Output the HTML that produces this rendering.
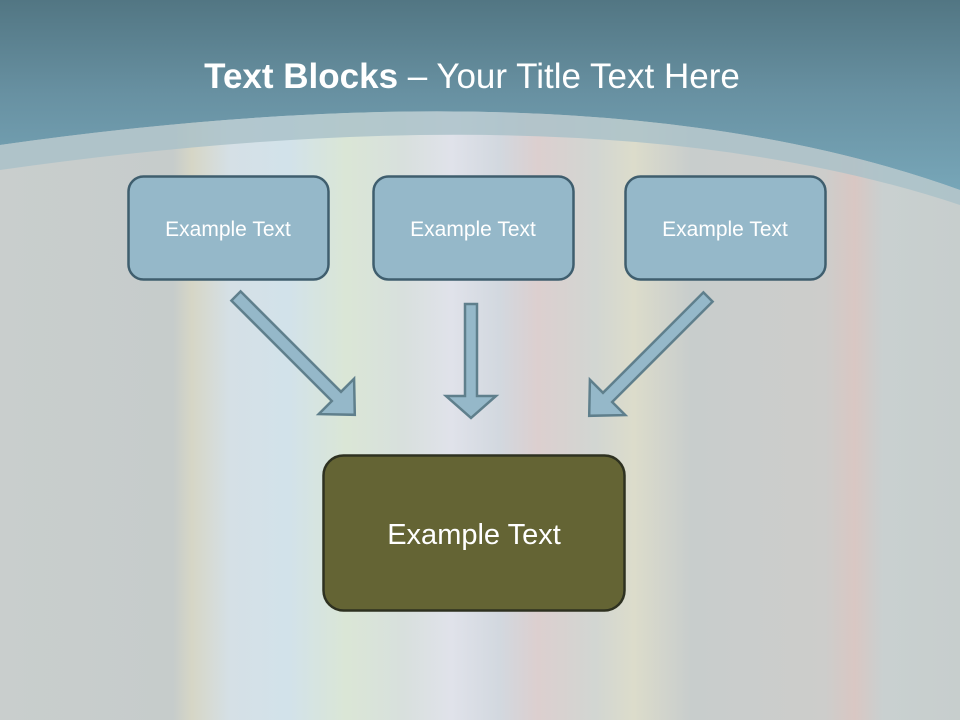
<!DOCTYPE html>
<html><head><meta charset="utf-8"><style>
html,body{margin:0;padding:0;width:960px;height:720px;overflow:hidden}
svg{display:block}
text{font-family:"Liberation Sans",sans-serif;fill:#fff}
</style></head><body>
<svg width="960" height="720" viewBox="0 0 960 720" xmlns="http://www.w3.org/2000/svg">
<defs>
<linearGradient id="stripes" x1="0" y1="0" x2="1" y2="0">
<stop offset="0" stop-color="#c9cecd"/>
<stop offset="0.18" stop-color="#c6cccb"/>
<stop offset="0.20" stop-color="#d6d6c6"/>
<stop offset="0.24" stop-color="#d5e0e6"/>
<stop offset="0.30" stop-color="#d2e2ea"/>
<stop offset="0.36" stop-color="#dae6d6"/>
<stop offset="0.42" stop-color="#d8e0dd"/>
<stop offset="0.47" stop-color="#e0e2ea"/>
<stop offset="0.52" stop-color="#d2d8df"/>
<stop offset="0.56" stop-color="#dccfcf"/>
<stop offset="0.62" stop-color="#d2d6d2"/>
<stop offset="0.66" stop-color="#dcdccb"/>
<stop offset="0.72" stop-color="#c8cdcc"/>
<stop offset="0.86" stop-color="#cdcdcb"/>
<stop offset="0.89" stop-color="#d9c7c3"/>
<stop offset="0.92" stop-color="#c9d0d0"/>
<stop offset="1" stop-color="#c7cecd"/>
</linearGradient>
<linearGradient id="top" x1="0" y1="0" x2="0" y2="1">
<stop offset="0" stop-color="#527683"/>
<stop offset="0.5" stop-color="#6891a2"/>
<stop offset="1" stop-color="#77a6b8"/>
</linearGradient>
</defs>
<rect width="960" height="720" fill="url(#stripes)"/>
<path d="M0,0 H960 V190 Q600,60 0,145 Z" fill="url(#top)"/>
<path d="M0,145 Q600,60 960,190 L960,205 Q600,85 0,170 Z" fill="#a9c0c8" opacity="0.8"/>
<text x="472" y="88" text-anchor="middle" font-size="35"><tspan font-weight="bold">Text Blocks</tspan> – Your Title Text Here</text>

<g fill="#95b8c9" stroke="#3f5e6e" stroke-width="2.5">
<rect x="128.5" y="176.5" width="200" height="103" rx="15"/>
<rect x="373.5" y="176.5" width="200" height="103" rx="15"/>
<rect x="625.5" y="176.5" width="200" height="103" rx="15"/>
</g>
<g font-size="21" text-anchor="middle">
<text x="228" y="236">Example Text</text>
<text x="473" y="236">Example Text</text>
<text x="725" y="236">Example Text</text>
</g>

<g fill="#95b8c9" stroke="#5f7f8c" stroke-width="2.5">
<polygon transform="translate(236,296) rotate(45)" points="0,-6.5 142,-6.5 142,-25 168,0 142,25 142,6.5 0,6.5"/>
<polygon transform="translate(471,304) rotate(90)" points="0,-6 92,-6 92,-25 114,0 92,25 92,6 0,6"/>
<polygon transform="translate(708,297) rotate(135)" points="0,-6.5 142,-6.5 142,-25 168,0 142,25 142,6.5 0,6.5"/>
</g>

<rect x="323.5" y="455.5" width="301" height="155" rx="20" fill="#646434" stroke="#2e3120" stroke-width="2.5"/>
<text x="474" y="544" font-size="29" text-anchor="middle">Example Text</text>
</svg>
</body></html>
